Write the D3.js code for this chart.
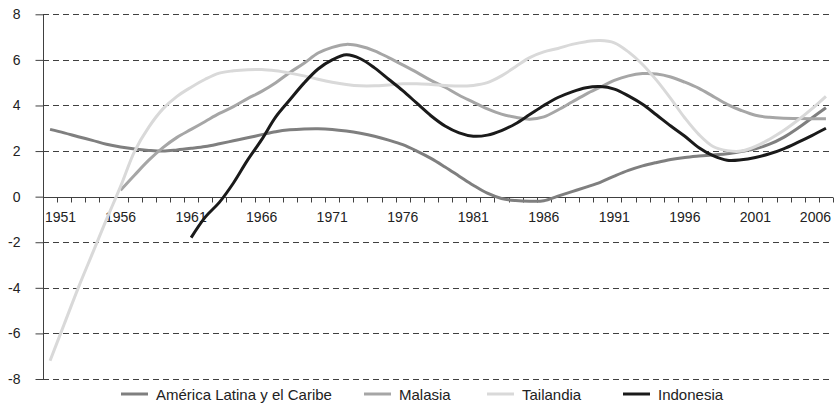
<!DOCTYPE html>
<html>
<head>
<meta charset="utf-8">
<script src="https://cdn.jsdelivr.net/npm/d3@7"></script>
<style>
  html, body { margin: 0; padding: 0; background: #fff; }
  svg { display: block; }
</style>
</head>
<body>
<svg id="chart" width="835" height="406"></svg>
<script>
const years = d3.range(1951, 2007);
const yTicks = [-8, -6, -4, -2, 0, 2, 4, 6, 8];
const xTickLabels = [1951, 1956, 1961, 1966, 1971, 1976, 1981, 1986, 1991, 1996, 2001, 2006];

const seriesNames = ["América Latina y el Caribe", "Malasia", "Tailandia", "Indonesia"];
const seriesColors = ["#7f7f7f", "#a6a6a6", "#d9d9d9", "#1a1a1a"];

// 1951–2006
const americaLatina = [2.95, 2.8, 2.63, 2.47, 2.3, 2.18, 2.09, 2.03, 2.0, 2.05,
  2.12, 2.2, 2.32, 2.45, 2.58, 2.72, 2.85, 2.93, 2.97, 2.98,
  2.95, 2.88, 2.78, 2.65, 2.48, 2.28, 2.0, 1.68, 1.3, 0.9,
  0.5, 0.15, -0.08, -0.17, -0.2, -0.18, 0.02, 0.22, 0.42, 0.63,
  0.9, 1.15, 1.35, 1.5, 1.63, 1.72, 1.78, 1.83, 1.88, 1.98,
  2.1, 2.3, 2.6, 3.0, 3.45, 3.9];

// 1956–2006
const malasia = [0.28, 0.95, 1.6, 2.15, 2.6,
  2.95, 3.3, 3.65, 3.95, 4.3, 4.62, 5.0, 5.45, 5.85, 6.3,
  6.55, 6.68, 6.6, 6.4, 6.1, 5.78, 5.45, 5.1, 4.8, 4.45,
  4.15, 3.85, 3.62, 3.48, 3.4, 3.5, 3.8, 4.15, 4.5, 4.8,
  5.1, 5.3, 5.4, 5.38, 5.25, 5.02, 4.75, 4.4, 4.05, 3.78,
  3.57, 3.48, 3.44, 3.43, 3.42, 3.42];

// 1951–2006
const tailandia = [-7.2, -5.6, -4.0, -2.5, -1.0, 0.45, 2.0, 3.05, 3.85, 4.4,
  4.8, 5.15, 5.42, 5.52, 5.57, 5.58, 5.52, 5.42, 5.3, 5.15,
  5.02, 4.92, 4.86, 4.86, 4.9, 4.95, 4.95, 4.92, 4.88, 4.85,
  4.88, 5.0, 5.3, 5.7, 6.1, 6.35, 6.5, 6.68, 6.8, 6.85,
  6.75, 6.35, 5.8, 5.1, 4.3, 3.45, 2.72, 2.2, 2.02, 2.0,
  2.2, 2.52, 2.9, 3.35, 3.85, 4.4];

// 1961–2006
const indonesia = [-1.8, -0.9, -0.25, 0.6, 1.6, 2.5, 3.5, 4.25, 4.98, 5.6,
  6.0, 6.22, 6.05, 5.65, 5.15, 4.65, 4.1, 3.55, 3.1, 2.8,
  2.65, 2.7, 2.9, 3.2, 3.6, 4.0, 4.35, 4.6, 4.78, 4.83,
  4.72, 4.42, 4.05, 3.58, 3.1, 2.65, 2.15, 1.8, 1.6, 1.62,
  1.72, 1.88, 2.1, 2.38, 2.68, 3.0];

const seriesStart = [1951, 1956, 1951, 1961];
const seriesValues = [americaLatina, malasia, tailandia, indonesia];

const svg = d3.select("#chart");
const plotLeft = 43, plotRight = 833, plotTop = 14.3, plotBottom = 379;

const x = d3.scaleBand().domain(years).range([plotLeft, plotRight]).padding(0);
const y = d3.scaleLinear().domain([-8, 8]).range([plotBottom, plotTop]);
const xc = yr => x(yr) + x.bandwidth() / 2;

const axisColor = "#404040";

// gridlines
svg.append("g").selectAll("line")
  .data(yTicks.filter(d => d !== 0))
  .join("line")
  .attr("x1", plotLeft).attr("x2", plotRight)
  .attr("y1", d => Math.round(y(d)) + 0.5).attr("y2", d => Math.round(y(d)) + 0.5)
  .attr("stroke", axisColor)
  .attr("stroke-width", 1)
  .attr("stroke-dasharray", "6,4");

// y axis
const yAxis = d3.axisLeft(y).tickValues(yTicks).tickSize(8).tickPadding(15).tickFormat(d3.format("d"));
const gy = svg.append("g").attr("transform", `translate(${plotLeft + 0.5},0)`).call(yAxis);
gy.select(".domain").attr("stroke", axisColor).attr("d", `M0,${y(8)}V${y(-8)}`);
gy.selectAll(".tick line").attr("stroke", axisColor);
gy.selectAll(".tick text")
  .attr("font-family", "'Liberation Sans', Arial, sans-serif")
  .attr("font-size", 14).attr("fill", "#222")
  .text(d => d < 0 ? "-" + Math.abs(d) : d);

// x axis line at 0
const y0 = Math.round(y(0)) + 0.5;
svg.append("line")
  .attr("x1", plotLeft).attr("x2", plotRight)
  .attr("y1", y0).attr("y2", y0)
  .attr("stroke", axisColor).attr("stroke-width", 1);

// x ticks at band boundaries
const boundaries = years.map(d => x(d)).concat([x.range()[1]]);
svg.append("g").selectAll("line")
  .data(boundaries.slice(1))
  .join("line")
  .attr("x1", d => Math.round(d) + 0.5).attr("x2", d => Math.round(d) + 0.5)
  .attr("y1", y0).attr("y2", y0 + 5)
  .attr("stroke", axisColor).attr("stroke-width", 1);

// x labels
const xl = svg.append("g").selectAll("text")
  .data(xTickLabels)
  .join("text")
  .attr("font-family", "'Liberation Sans Narrow', 'Arial Narrow', 'Liberation Sans', sans-serif")
  .attr("font-size", 14)
  .attr("fill", "#222")
  .attr("y", 222)
  .attr("x", d => xc(d))
  .attr("text-anchor", "middle")
  .text(d => d);
xl.each(function() {
  const w = this.getComputedTextLength();
  let cx = +this.getAttribute("x");
  if (cx - w / 2 < plotLeft + 2) cx = plotLeft + 2 + w / 2;
  if (cx + w / 2 > plotRight - 2) cx = plotRight - 2 - w / 2;
  this.setAttribute("x", cx);
});

// lines
const line = d3.line()
  .x(d => xc(d.year))
  .y(d => y(d.value))
  .curve(d3.curveCatmullRom);

seriesValues.forEach((vals, i) => {
  const data = vals.map((v, j) => ({ year: seriesStart[i] + j, value: v }));
  svg.append("path")
    .datum(data)
    .attr("fill", "none")
    .attr("stroke", seriesColors[i])
    .attr("stroke-width", 3)
    .attr("stroke-linejoin", "round")
    .attr("d", line);
});

// legend
const legendX = [121, 364, 487, 623];
const legY = 394;
const lg = svg.append("g");
seriesNames.forEach((name, i) => {
  lg.append("line")
    .attr("x1", legendX[i]).attr("x2", legendX[i] + 27)
    .attr("y1", legY).attr("y2", legY)
    .attr("stroke", seriesColors[i]).attr("stroke-width", 3);
  lg.append("text")
    .attr("x", legendX[i] + 35).attr("y", legY + 5.5)
    .attr("font-family", "'Liberation Sans', Arial, sans-serif")
    .attr("font-size", 15).attr("fill", "#222")
    .text(name);
});
</script>
</body>
</html>
